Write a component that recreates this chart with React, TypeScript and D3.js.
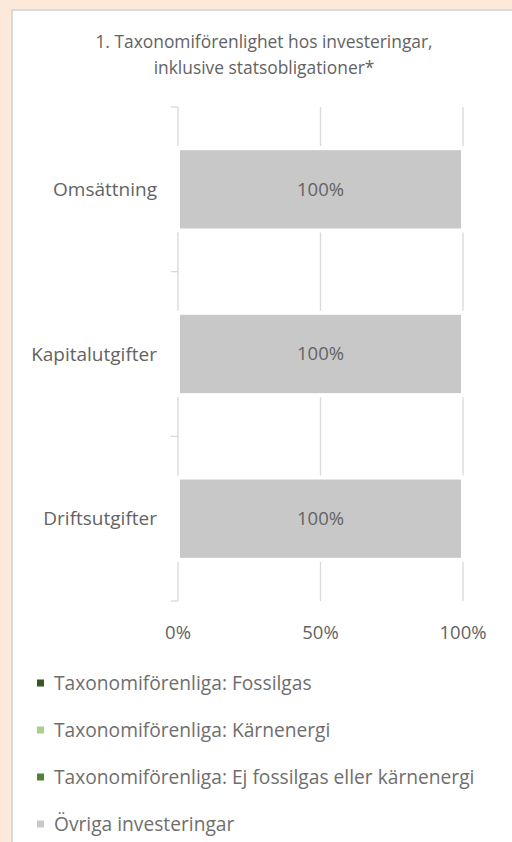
import React from "react";
import * as d3 from "d3";

const title = ["1. Taxonomiförenlighet hos investeringar,", "inklusive statsobligationer*"];
const categories = ["Omsättning", "Kapitalutgifter", "Driftsutgifter"];
const seriesNames = [
  "Taxonomiförenliga: Fossilgas",
  "Taxonomiförenliga: Kärnenergi",
  "Taxonomiförenliga: Ej fossilgas eller kärnenergi",
  "Övriga investeringar",
];
const seriesColors = ["#375623", "#A9D18E", "#548235", "#C8C8C9"];
const fossilgas = [0, 0, 0];
const karnenergi = [0, 0, 0];
const ejFossil = [0, 0, 0];
const ovriga = [100, 100, 100];
const xTicks = [0, 50, 100];

const W = 512;
const H = 842;
const FONT = "'Open Sans', sans-serif";

export default function App() {
  const x = d3.scaleLinear().domain([0, 100]).range([178, 463]);
  const y = d3.scaleBand<string>().domain(categories).range([107, 601]).paddingInner(0.5).paddingOuter(0.25);
  const band = d3.scaleBand<string>().domain(categories).range([107, 601]);

  const rows = categories.map((c, i) => ({
    cat: c,
    s0: fossilgas[i],
    s1: karnenergi[i],
    s2: ejFossil[i],
    s3: ovriga[i],
  }));
  const stack = d3.stack<any>().keys(["s0", "s1", "s2", "s3"]);
  const layers = stack(rows);

  const textColor = "#636363";
  const lightText = "#6E6E6E";

  return (
    <svg width={W} height={H} style={{ position: "absolute", left: 0, top: 0 }} fontFamily={FONT}>
      <rect x={0} y={0} width={W} height={H} fill="#FCE9D9" />
      <rect x={12} y={10} width={W} height={H} fill="#FFFFFF" stroke="#D9D9D9" strokeWidth={2} />
      {title.map((t, i) => (
        <text key={i} x={264} y={48 + i * 26} textAnchor="middle" fontSize={17.4} fill={textColor}>
          {t}
        </text>
      ))}
      {/* gridlines */}
      {xTicks.filter((t) => t > 0).map((t) => (
        <line key={t} x1={x(t)} x2={x(t)} y1={107} y2={601} stroke="#D9D9D9" strokeWidth={1.3} />
      ))}
      {/* axis */}
      <line x1={178} x2={178} y1={107} y2={601} stroke="#D9D9D9" strokeWidth={1.3} />
      {[0, 1, 2, 3].map((i) => {
        const yy = i < 3 ? (band(categories[i]) as number) : 601;
        return <line key={i} x1={171} x2={178} y1={yy} y2={yy} stroke="#D9D9D9" strokeWidth={1.3} />;
      })}
      {/* bars */}
      {layers.map((layer, li) =>
        layer.map((d, i) => {
          const w = x(d[1]) - x(d[0]);
          if (w <= 0) return null;
          return (
            <rect
              key={li + "-" + i}
              x={x(d[0])}
              y={y(categories[i])}
              width={w}
              height={y.bandwidth()}
              fill={seriesColors[li]}
              stroke="#FFFFFF"
              strokeWidth={4}
            />
          );
        })
      )}
      {/* bar labels */}
      {layers.map((layer, li) =>
        layer.map((d, i) => {
          const v = d[1] - d[0];
          if (v <= 0) return null;
          return (
            <text
              key={"l" + li + "-" + i}
              x={(x(d[0]) + x(d[1])) / 2}
              y={(y(categories[i]) as number) + y.bandwidth() / 2}
              dy="0.35em"
              textAnchor="middle"
              fontSize={18.5}
              fill={textColor}
            >
              {v + "%"}
            </text>
          );
        })
      )}
      {/* category labels */}
      {categories.map((c) => (
        <text
          key={c}
          x={157}
          y={(y(c) as number) + y.bandwidth() / 2}
          dy="0.35em"
          textAnchor="end"
          fontSize={19}
          fill={textColor}
        >
          {c}
        </text>
      ))}
      {/* x tick labels */}
      {xTicks.map((t) => (
        <text key={t} x={x(t)} y={633} dy="0.35em" textAnchor="middle" fontSize={18.5} fill={textColor}>
          {t + "%"}
        </text>
      ))}
      {/* legend */}
      {seriesNames.map((n, i) => (
        <g key={n} transform={`translate(37, ${683 + i * 47})`}>
          <rect x={0} y={-3.5} width={7} height={7} fill={seriesColors[i]} />
          <text x={17} y={0} dy="0.35em" fontSize={19.2} fill={lightText}>
            {n}
          </text>
        </g>
      ))}
    </svg>
  );
}
